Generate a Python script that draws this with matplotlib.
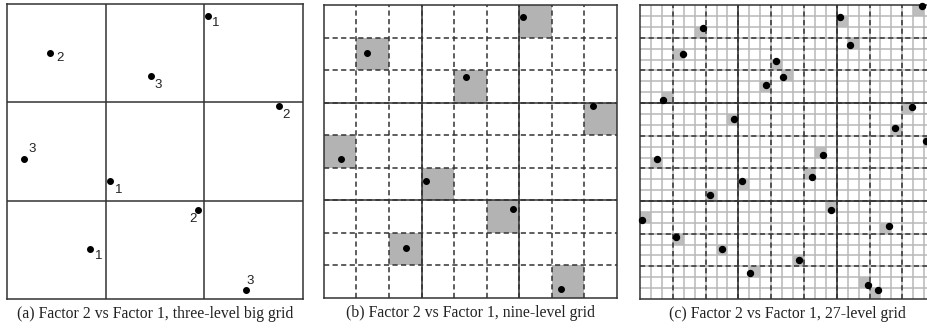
import numpy as np
import matplotlib
matplotlib.use("Agg")
import matplotlib.pyplot as plt
from matplotlib.patches import Rectangle

# points of the 9-run design (fractions of the factor range), shared by all panels
x9 = [0.678, 0.147, 0.485, 0.920, 0.058, 0.347, 0.646, 0.279, 0.808]
y9 = [0.960, 0.835, 0.755, 0.655, 0.475, 0.401, 0.303, 0.171, 0.029]
labels9 = ["1", "2", "3", "2", "3", "1", "2", "1", "3"]

# extra points of the 27-run design (panel c)
x_extra = [0.955, 0.214, 0.710, 0.461, 0.427, 0.079, 0.320, 0.864, 0.968,
           0.620, 0.583, 0.236, 0.008, 0.844, 0.122, 0.540, 0.374, 0.771]
y_extra = [0.997, 0.921, 0.864, 0.811, 0.729, 0.677, 0.611, 0.583, 0.539,
           0.491, 0.416, 0.354, 0.268, 0.248, 0.210, 0.134, 0.090, 0.048]

captions = ["(a) Factor 2 vs Factor 1, three-level big grid",
            "(b) Factor 2 vs Factor 1, nine-level grid",
            "(c) Factor 2 vs Factor 1, 27-level grid"]

# label offsets for panel (a), in points
label_offsets = [(5.5, -5.3), (6.5, -3.6), (5.8, -6.5), (4.8, -6.5), (6.0, 7.0),
                 (6.3, -7.0), (-4.1, -6.7), (6.5, -5.3), (2.7, 6.7)]

line_col = "#333333"
fig = plt.figure(figsize=(9.28, 3.28), dpi=100)
positions = [[0.0075, 0.0884, 0.319, 0.899],
             [0.349, 0.0915, 0.3157, 0.893],
             [0.6897, 0.0884, 0.318, 0.896]]

axes = []
for pos in positions:
    ax = fig.add_axes(pos)
    ax.set_xlim(0, 1)
    ax.set_ylim(0, 1)
    ax.set_xticks([])
    ax.set_yticks([])
    for s in ax.spines.values():
        s.set_color(line_col)
        s.set_linewidth(1.1)
        s.set_zorder(5)
    axes.append(ax)

def grid(ax, n, **kw):
    for k in range(1, n):
        ax.axvline(k / n, **kw)
        ax.axhline(k / n, **kw)

def shade(ax, xs, ys, n, color):
    for x, y in zip(xs, ys):
        i = np.floor(x * n)
        j = np.floor(y * n)
        ax.add_patch(Rectangle((i / n, j / n), 1 / n, 1 / n, facecolor=color,
                               edgecolor="none", zorder=1))

# (a)
ax = axes[0]
grid(ax, 3, color=line_col, lw=1.1, zorder=3)
ax.plot(x9, y9, "o", color="black", ms=4.0, zorder=6)
for x, y, t, off in zip(x9, y9, labels9, label_offsets):
    ax.annotate(t, (x, y), xytext=off, textcoords="offset points",
                ha="center", va="center", fontsize=9.5, family="Liberation Sans",
                color="#222222")

# (b)
ax = axes[1]
shade(ax, x9, y9, 9, "#b3b3b3")
grid(ax, 9, color=line_col, lw=1.1, dashes=(3.4, 2.2), zorder=3)
grid(ax, 3, color=line_col, lw=1.1, zorder=4)
ax.plot(x9, y9, "o", color="black", ms=4.0, zorder=6)

# (c)
ax = axes[2]
xc = x9 + x_extra
yc = y9 + y_extra
shade(ax, xc, yc, 27, "#bdbdbd")
grid(ax, 27, color="#b8b8b8", lw=1.1, zorder=2)
grid(ax, 9, color=line_col, lw=1.1, dashes=(3.4, 2.2), zorder=3)
grid(ax, 3, color=line_col, lw=1.1, zorder=4)
ax.plot(xc, yc, "o", color="black", ms=4.3, zorder=6, clip_on=False)

for ax, cap in zip(axes, captions):
    ax.text(0.5, -0.025, cap, transform=ax.transAxes, ha="center", va="top",
            fontsize=11.3, family="Liberation Serif", color="#222222")

fig.savefig("out.png", dpi=100)
